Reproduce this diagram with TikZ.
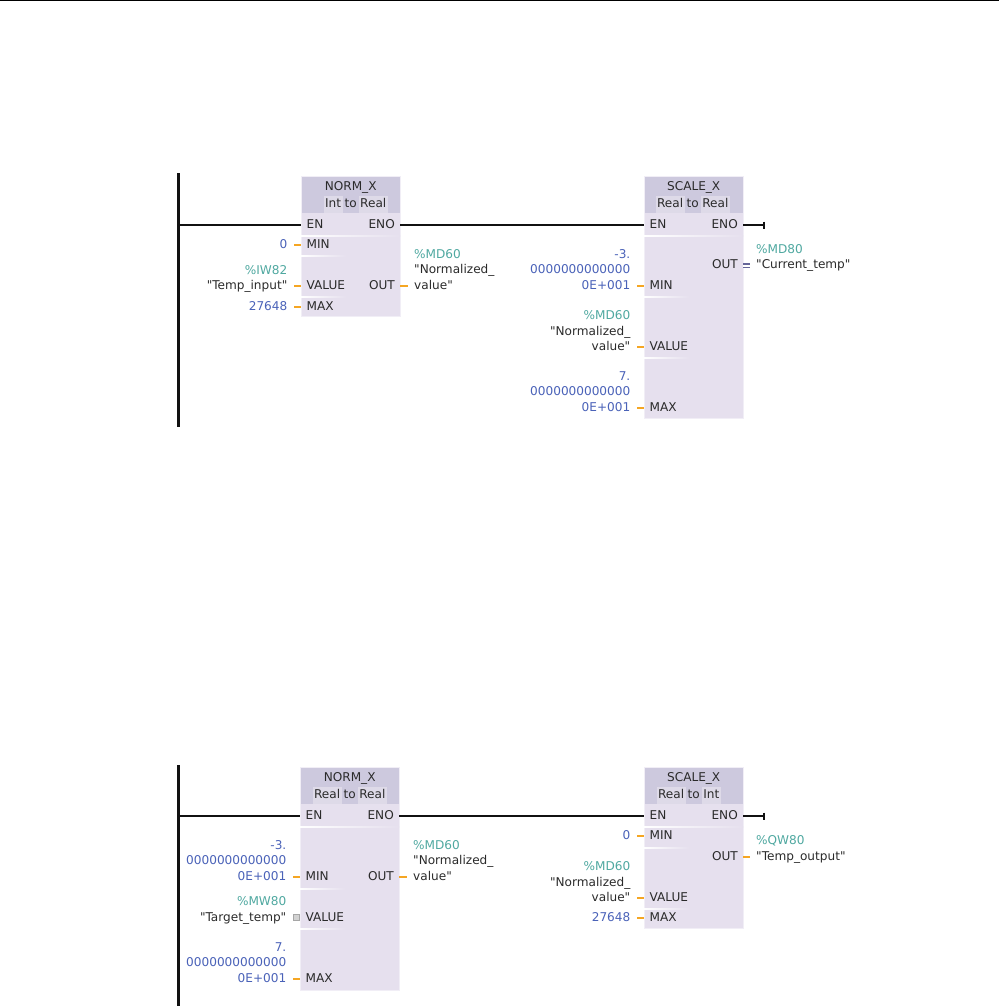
\documentclass[tikz,border=0pt]{standalone}
\usepackage{fontspec}
\setmainfont[Ligatures=TeXOff]{DejaVu Sans}
\usetikzlibrary{arrows.meta}
\definecolor{bodyfill}{HTML}{E6E0EE}
\definecolor{headfill}{HTML}{CDC9DE}
\definecolor{typefill}{HTML}{DEDAE8}
\definecolor{edgecol}{HTML}{F1EEF6}
\definecolor{wirecol}{HTML}{111111}
\definecolor{stubcol}{HTML}{F5A623}
\definecolor{numcol}{HTML}{4A62B8}
\definecolor{addrcol}{HTML}{4FA8A0}
\definecolor{txtcol}{HTML}{2A2A2A}
\newcommand{\typetag}[1]{{\fboxsep=1.5pt\colorbox{typefill}{\strut #1}}}
\tikzset{
    every node/.style={font=\fontsize{12.1}{14}\selectfont, text=txtcol, text height=9pt, text depth=3pt, inner ysep=0pt},
    plcbody/.style={draw=edgecol, line width=0.8pt, fill=bodyfill, anchor=north west, inner sep=0pt},
    plchead/.style={fill=headfill, anchor=north west, inner sep=0pt, minimum width=98pt, minimum height=36pt},
    pinleft/.style={anchor=west, inner xsep=5.5pt},
    pinright/.style={anchor=east, inner xsep=5pt},
    opleft/.style={anchor=east, inner xsep=6.5pt},
    opright/.style={anchor=west, inner xsep=6pt},
    rail/.style={wirecol, line width=2.2pt},
    rung/.style={wirecol, line width=2.2pt},
    stub/.style={stubcol, line width=2.2pt},
    stubdouble/.style={gray!80!blue, line width=1.4pt, double=white, double distance=2pt},
    notconn/.style={draw=gray!70, fill=gray!35, line width=0.8pt, minimum size=5.5pt, inner sep=0pt, text height=0pt, text depth=0pt}
}
\begin{document}
\begin{tikzpicture}[x=1pt, y=-1pt]
    \useasboundingbox (0,0) rectangle (999,1006);
    % Top rule
    \coordinate (ruleL) at (0,0.5);
    \coordinate (ruleR) at (999,0.5);
    \draw[black, line width=1pt] (ruleL) -- (ruleR);

    % Blocks
    \foreach \n/\x/\y/\h in {a/301/176/140, b/644/176/242, c/300/767/223, d/644/767/161}
        \node[plcbody, minimum width=99pt, minimum height=\h pt] (\n) at (\x,\y) {};
    \foreach \n/\t/\from/\to/\dx in {a/NORM\_X/Int/Real/5, b/SCALE\_X/Real/Real/-1, c/NORM\_X/Real/Real/0, d/SCALE\_X/Real/Int/-5} {
        \node[plchead] (\n head) at ([xshift=0.5pt,yshift=-0.5pt]\n.north west) {};
        \node (\n title) at ([yshift=-11pt]\n head.north) {\t};
        \node (\n type) at ([xshift=\dx pt,yshift=-28pt]\n head.north) {\typetag{\from}\,to\,\typetag{\to}};
    }

    % White separators
    \foreach \x/\y/\w in {301/235/99, 301/255/45, 301/296/45, 644/235/99, 644/296/45, 644/357/45,
                          300/826/99, 300/888/45, 300/928/45, 644/826/99, 644/847/45, 644/908/45}
        \shade[left color=white, right color=bodyfill] (\x,\y) rectangle ++(\w,1.2);

    % Pins on the left side
    \foreach \n/\x/\y/\t in {aen/301/225/EN, amin/301/245/MIN, aval/301/286/VALUE, amax/301/307/MAX,
                             ben/644/225/EN, bmin/644/286/MIN, bval/644/347/VALUE, bmax/644/408/MAX,
                             cen/300/816/EN, cmin/300/877/MIN, cval/300/918/VALUE, cmax/300/979/MAX,
                             den/644/816/EN, dmin/644/836/MIN, dval/644/898/VALUE, dmax/644/918/MAX}
        \node[pinleft] (\n) at (\x,\y) {\t};
    % Pins on the right side
    \foreach \n/\x/\y/\t in {aeno/400/225/ENO, aout/400/286/OUT, beno/743/225/ENO, bout/743/265.5/OUT,
                             ceno/399/816/ENO, cout/399/877/OUT, deno/743/816/ENO, dout/743/857/OUT}
        \node[pinright] (\n) at (\x,\y) {\t};

    % Operands: blue constants
    \foreach \n/\x/\y/\t in {vamin/294/245/0, vamax/294/307/27648,
                             vbminA/637/255/-3., vbminB/637/270/0000000000000, vbmin/637/286/0E+001,
                             vbmaxA/637/377/7., vbmaxB/637/392/0000000000000, vbmax/637/408/0E+001,
                             vcminA/293/846/-3., vcminB/293/861/0000000000000, vcmin/293/877/0E+001,
                             vcmaxA/293/948/7., vcmaxB/293/963/0000000000000, vcmax/293/979/0E+001,
                             vdmin/637/836/0, vdmax/637/918/27648}
        \node[opleft, text=numcol] (\n) at (\x,\y) {\t};
    % Operands: teal addresses
    \foreach \n/\x/\y/\t in {vavalA/294/271/\%IW82, vbvalA/637/316/\%MD60, vcvalA/293/902/\%MW80, vdvalA/637/867/\%MD60}
        \node[opleft, text=addrcol] (\n) at (\x,\y) {\t};
    \foreach \n/\x/\y/\t in {voutaA/408/255.5/\%MD60, voutbA/750/250.5/\%MD80, voutcA/407/846.5/\%MD60, voutdA/750/841.5/\%QW80}
        \node[opright, text=addrcol] (\n) at (\x,\y) {\t};
    % Operands: tag names
    \foreach \n/\x/\y/\t in {vaval/294/286/"Temp\_input", vbvalB/637/332/"Normalized\_, vbval/637/347/value",
                             vcval/293/918/"Target\_temp", vdvalB/637/883/"Normalized\_, vdval/637/898/value"}
        \node[opleft] (\n) at (\x,\y) {\t};
    \foreach \n/\x/\y/\t in {voutaB/408/270.5/"Normalized\_, vouta/408/286/value", voutb/750/265.5/"Current\_temp",
                             voutcB/407/861.5/"Normalized\_, voutc/407/877/value", voutd/750/857/"Temp\_output"}
        \node[opright] (\n) at (\x,\y) {\t};

    % Power rails
    \coordinate (railAt) at (178.5,173);
    \coordinate (railAb) at (178.5,427);
    \coordinate (railBt) at (178.5,765);
    \coordinate (railBb) at (178.5,1006);
    \draw[rail] (railAt) -- (railAb);
    \draw[rail] (railBt) -- (railBb);

    % Rungs
    \coordinate (endA) at (765,225);
    \coordinate (endB) at (765,816);
    \draw[rung] (railAt |- aen.west) -- (aen.west);
    \draw[rung] (aeno.east) -- (ben.west);
    \draw[rung, -{Bar[width=7pt,line width=1.6pt]}] (beno.east) -- (endA);
    \draw[rung] (railBt |- cen.west) -- (cen.west);
    \draw[rung] (ceno.east) -- (den.west);
    \draw[rung, -{Bar[width=7pt,line width=1.6pt]}] (deno.east) -- (endB);

    % Short orange wires
    \foreach \a/\b in {vamin/amin, vaval/aval, vamax/amax, aout/vouta,
                       vbmin/bmin, vbval/bval, vbmax/bmax,
                       vcmin/cmin, cout/voutc, vcmax/cmax,
                       vdmin/dmin, vdval/dval, vdmax/dmax, dout/voutd}
        \draw[stub] (\a) -- (\b);
    \draw[stubdouble] (bout.east) -- (voutb.west);
    \node[notconn] (vcbox) at (296.5,917.5) {};
\end{tikzpicture}
\end{document}
